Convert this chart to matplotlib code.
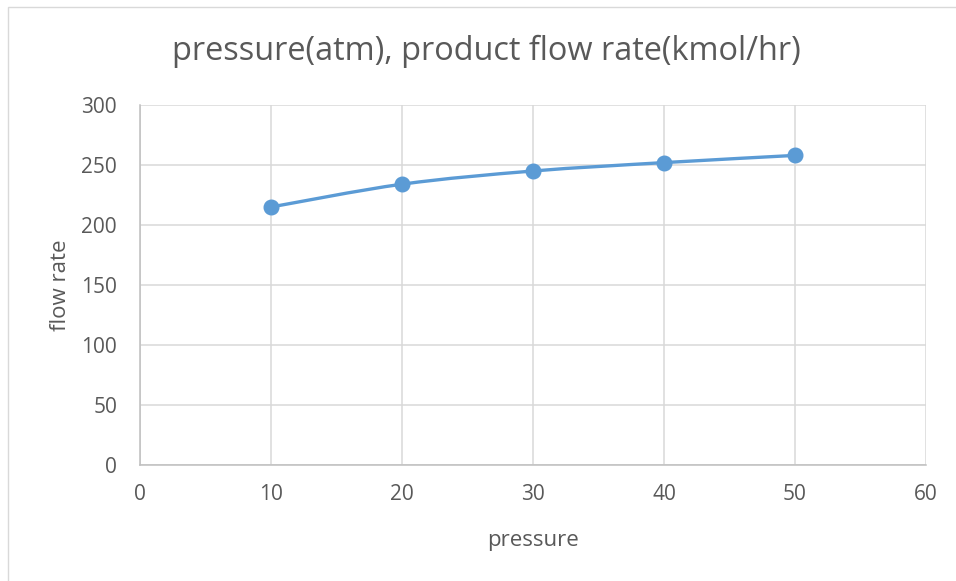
import matplotlib.pyplot as plt
import matplotlib.patches as patches
from matplotlib.path import Path

pressure = [10, 20, 30, 40, 50]
flow_rate = [215, 234, 245, 252, 258]
x_ticks = [0, 10, 20, 30, 40, 50, 60]
y_ticks = [0, 50, 100, 150, 200, 250, 300]

plt.rcParams['font.family'] = ['Open Sans', 'DejaVu Sans']
text_col = '#595959'
line_col = '#5B9BD5'
W, H = 956, 581

fig = plt.figure(figsize=(9.56, 5.81), dpi=100)
ax = fig.add_axes([140/W, 1-465/H, 786/W, 360/H])

# chart border like the excel frame
fig.patches.append(patches.Rectangle((8/W, -0.1), 1.2, 1-7/H+0.1, transform=fig.transFigure,
                                     fill=False, edgecolor='#D9D9D9', linewidth=1.0))

# smoothed line (bezier through the points, like excel's smoothed scatter)
verts = [(pressure[0], flow_rate[0])]
codes = [Path.MOVETO]
n = len(pressure)
for i in range(n-1):
    p0 = (pressure[max(i-1, 0)], flow_rate[max(i-1, 0)])
    p1 = (pressure[i], flow_rate[i])
    p2 = (pressure[i+1], flow_rate[i+1])
    p3 = (pressure[min(i+2, n-1)], flow_rate[min(i+2, n-1)])
    c1 = (p1[0] + (p2[0]-p0[0])/6, p1[1] + (p2[1]-p0[1])/6)
    c2 = (p2[0] - (p3[0]-p1[0])/6, p2[1] - (p3[1]-p1[1])/6)
    verts += [c1, c2, p2]
    codes += [Path.CURVE4]*3
ax.add_patch(patches.PathPatch(Path(verts, codes), fill=False, edgecolor=line_col, linewidth=2.4,
                               capstyle='round', zorder=3))
ax.plot(pressure, flow_rate, linestyle='none', marker='o', markersize=10.5, color=line_col, zorder=4)

ax.set_xlim(0, 60)
ax.set_ylim(0, 300)
ax.set_xticks(x_ticks)
ax.set_yticks(y_ticks)
ax.grid(True, color='#D9D9D9', linewidth=1.1)
ax.set_axisbelow(True)
for s in ['top', 'right']:
    ax.spines[s].set_visible(False)
for s in ['left', 'bottom']:
    ax.spines[s].set_color('#BFBFBF')
    ax.spines[s].set_linewidth(1.1)
ax.tick_params(length=0, labelsize=15, labelcolor=text_col)
ax.tick_params(axis='x', pad=13.5)
ax.tick_params(axis='y', pad=16.5)

fig.text(533/W, 1-546/H, 'pressure', fontsize=16, color=text_col, ha='center', va='baseline')
fig.text(66.5/W, 1-285.5/H, 'flow rate', fontsize=16, color=text_col, ha='center', va='baseline',
         rotation=90, rotation_mode='anchor')
fig.text(486/W, 1-60/H, 'pressure(atm), product flow rate(kmol/hr)', fontsize=23.4,
         color=text_col, ha='center', va='baseline')

fig.savefig('out.png', dpi=100)
